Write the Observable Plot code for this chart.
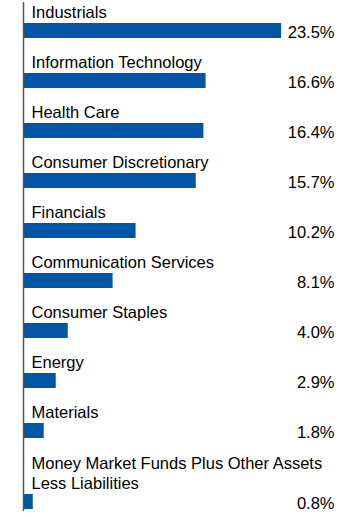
<!DOCTYPE html>
<html>
<head>
<meta charset="utf-8">
<script src="https://cdn.jsdelivr.net/npm/d3@7"></script>
<script src="https://cdn.jsdelivr.net/npm/@observablehq/plot@0.6"></script>
<style>
  html, body { margin: 0; padding: 0; background: #fff; }
  #chart svg { display: block; }
</style>
</head>
<body>
<div id="chart"></div>
<script>
const sectors = [
  "Industrials",
  "Information Technology",
  "Health Care",
  "Consumer Discretionary",
  "Financials",
  "Communication Services",
  "Consumer Staples",
  "Energy",
  "Materials",
  "Money Market Funds Plus Other Assets\nLess Liabilities"
];
const values = [23.5, 16.6, 16.4, 15.7, 10.2, 8.1, 4.0, 2.9, 1.8, 0.8];
const valueLabels = ["23.5%", "16.6%", "16.4%", "15.7%", "10.2%", "8.1%", "4.0%", "2.9%", "1.8%", "0.8%"];

// layout constants (pixels per unit of the vertical scale)
const W = 360, H = 517;
const lineH = 21, gapAbove = 2, barH = 15, rowPad = 12;

let cursor = 0;
const rows = sectors.map((s, i) => {
  const lines = s.split("\n").length;
  const barTop = cursor + lines * lineH + gapAbove;
  const row = {
    label: s,
    value: values[i],
    valueLabel: valueLabels[i],
    y1: barTop,
    y2: barTop + barH,
    labelY: barTop - 6,
    valueY: barTop + barH / 2 + 1.5
  };
  cursor = barTop + barH + rowPad;
  return row;
});
const lastBottom = rows[rows.length - 1].y2;

const chart = Plot.plot({
  width: W,
  height: H,
  marginLeft: 24,
  marginRight: 26,
  marginTop: 0,
  marginBottom: 0,
  style: { fontFamily: "'Liberation Sans', Arial, sans-serif", background: "#fff" },
  x: { domain: [0, 28.34], axis: null },
  y: { domain: [0, H], range: [0, H], axis: null },
  marks: [
    Plot.rectX(rows, {x1: 0, x2: "value", y1: "y1", y2: "y2", fill: "#0055a5"}),
    Plot.ruleX([0], {y1: 2, y2: lastBottom + 2, stroke: "#555", strokeWidth: 1.5, dx: -1}),
    Plot.text(rows, {
      x: 0, y: "labelY", text: "label", textAnchor: "start", lineAnchor: "bottom",
      dx: 7, fontSize: 16.5, fill: "#000", lineHeight: 1.19
    }),
    Plot.text(rows, {
      y: "valueY", text: "valueLabel", frameAnchor: "right", textAnchor: "end", lineAnchor: "middle",
      fontSize: 16.5, fill: "#000"
    })
  ]
});
document.getElementById("chart").appendChild(chart);
</script>
</body>
</html>
